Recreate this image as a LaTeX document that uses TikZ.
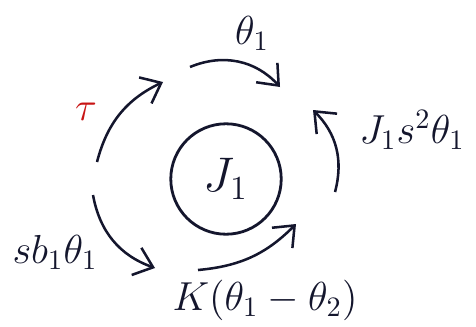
\documentclass[tikz,border=0pt]{standalone}
\usepackage{tikz}
\usetikzlibrary{arrows.meta, positioning}
\definecolor{ink}{RGB}{20,22,45}
\definecolor{redink}{RGB}{200,20,20}

\begin{document}
\begin{tikzpicture}[x=0.0125cm, y=0.0125cm,
  flow/.style={draw=ink, line width=0.9pt, -{Straight Barb[length=2.2mm, width=3.6mm]}},
  lbl/.style={text=ink, font=\Large}
]
  \useasboundingbox (0,0) rectangle (476,326);

  % Inertia
  \node[draw=ink, line width=1pt, circle, minimum size=1.38cm, inner sep=0pt, text=ink, font=\LARGE] (inertia) at (226,147) {$J_1$};

  % Arc ends
  \coordinate (top1) at (190,259);
  \coordinate (top2) at (280,239);
  \coordinate (tau1) at (97,164);
  \coordinate (tau2) at (163,244);
  \coordinate (damp1) at (93,131);
  \coordinate (damp2) at (155,58);
  \coordinate (spr1) at (198,56);
  \coordinate (spr2) at (296,102);
  \coordinate (acc1) at (335,134);
  \coordinate (acc2) at (313,216);

  % Arrows
  \draw[flow] (top1) to[bend left=35] (top2);
  \draw[flow] (tau1) to[bend left=25] (tau2);
  \draw[flow] (damp1) to[bend right=30] (damp2);
  \draw[flow] (spr1) to[bend right=20] (spr2);
  \draw[flow] (acc1) to[bend right=30] (acc2);

  % Labels
  \node[lbl] (theta) at (252,293) {$\theta_1$};
  \node[lbl, text=redink] (tau) at (86,214) {$\tau$};
  \node[lbl] (accl) at (412,196) {$J_1 s^2\theta_1$};
  \node[lbl] (dampl) at (55,74) {$s b_1\theta_1$};
  \node[lbl] (sprl) at (265,26) {$K(\theta_1-\theta_2)$};

\end{tikzpicture}
\end{document}
